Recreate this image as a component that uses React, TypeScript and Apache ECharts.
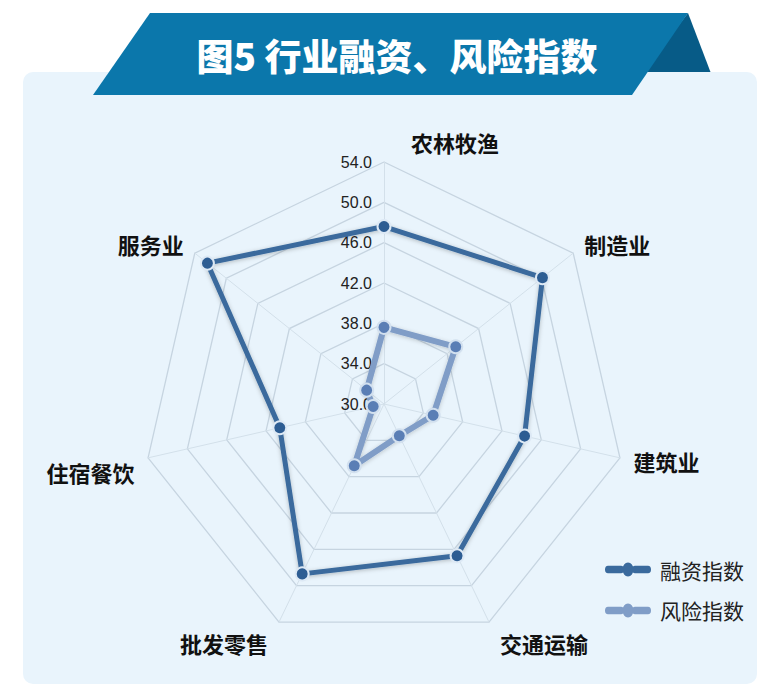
import React, { useEffect, useRef } from "react";
import * as echarts from "echarts";

const titleText = "图5 行业融资、风险指数";
// clockwise from top
const indicatorNames = ["农林牧渔", "制造业", "建筑业", "交通运输", "批发零售", "住宿餐饮", "服务业"];
const seriesNames = ["融资指数", "风险指数"];
const financingValues = [47.6, 50.1, 44.3, 46.7, 48.7, 40.6, 52.4];
const riskValues = [37.6, 39.1, 35.0, 33.5, 36.8, 31.1, 32.2];
const axisMin = 30;
const axisMax = 54;
const axisSplits = 6;

const FONT = '"Noto Sans CJK SC", "Noto Sans", sans-serif';

const namePadding: number[][] = [
  [0, 0, 0, 142],
  [0, 0, 0, 0],
  [0, 0, 0, 0],
  [16, 0, 0, 5],
  [16, 5, 0, 0],
  [22, 0, 0, 0],
  [0, 0, 0, 0],
];

const legendIcon =
  "path://M3,4 L16,4 A3,3 0 0 1 16,10 L3,10 A3,3 0 0 1 3,4 Z M23,1.5 A5.5,5.5 0 1 1 23,12.5 A5.5,5.5 0 1 1 23,1.5 Z M30,4 L43,4 A3,3 0 0 1 43,10 L30,10 A3,3 0 0 1 30,4 Z";

export default function App() {
  const ref = useRef<HTMLDivElement>(null);

  useEffect(() => {
    document.body.style.margin = "0";
    const chart = echarts.init(ref.current!, null, { renderer: "svg" });

    // ECharts radar runs counter-clockwise; reorder so the chart reads clockwise
    const order = indicatorNames.map((_, i) => (i === 0 ? 0 : indicatorNames.length - i));
    const pick = (arr: any[]) => order.map((i) => arr[i]);

    const rich: Record<string, any> = {};
    indicatorNames.forEach((n, i) => {
      rich["k" + i] = {
        fontSize: 22,
        fontWeight: "bold",
        color: "#111",
        fontFamily: FONT,
        padding: namePadding[i],
        lineHeight: i === 0 ? 12 : 26,
      };
    });

    const orderedNames = pick(indicatorNames);

    const option: any = {
      animation: false,
      textStyle: { fontFamily: FONT },
      graphic: [
        {
          type: "polygon",
          z: -10,
          shape: { points: [[688, 13], [712, 76], [640, 76]] },
          style: { fill: "#075b87" },
        },
        {
          type: "rect",
          z: -9,
          shape: { x: 23, y: 72, width: 734, height: 612, r: 10 },
          style: { fill: "#e9f4fc" },
        },
        {
          type: "polygon",
          z: -8,
          shape: { points: [[150, 13], [688, 13], [632, 95], [93, 95]] },
          style: { fill: "#0b77ab" },
        },
        {
          type: "text",
          z: -7,
          x: 397,
          y: 55,
          style: {
            text: titleText,
            fill: "#ffffff",
            fontSize: 37,
            fontWeight: 900,
            fontFamily: FONT,
            align: "center",
            verticalAlign: "middle",
          },
        },
      ],
      legend: {
        orient: "vertical",
        left: 600,
        top: 554,
        itemWidth: 46,
        itemHeight: 14,
        itemGap: 20,
        symbolKeepAspect: false,
        textStyle: { fontSize: 21, color: "#222", fontFamily: FONT, padding: [0, 0, 0, 4] },
        data: [
          { name: seriesNames[0], icon: legendIcon, itemStyle: { color: "#3a6a9d", borderWidth: 0 } },
          { name: seriesNames[1], icon: legendIcon, itemStyle: { color: "#809dc7", borderWidth: 0 } },
        ],
      },
      radar: {
        center: [384, 404],
        radius: 242,
        startAngle: 90,
        splitNumber: axisSplits,
        shape: "polygon",
        nameGap: 14,
        axisName: {
          formatter: (name: string) => `{k${indicatorNames.indexOf(name)}|${name}}`,
          rich,
        },
        indicator: orderedNames.map((n: string, i: number) =>
          i === 0
            ? { name: n, min: axisMin, max: axisMax }
            : { name: n, min: axisMin, max: axisMax, axisLabel: { show: false } }
        ),
        axisLabel: {
          show: true,
          fontSize: 16,
          margin: 12,
          color: "#222",
          fontFamily: '"Liberation Sans", Arial, sans-serif',
          formatter: (v: number) => Number(v).toFixed(1),
        },
        splitLine: { lineStyle: { color: "#c6d4e0", width: 1.3 } },
        splitArea: { show: false },
        axisLine: { lineStyle: { color: "#d3e0ea", width: 1 } },
        axisTick: { show: false },
      },
      series: [
        {
          type: "radar",
          z: 3,
          symbol: "circle",
          symbolSize: 13,
          data: [
            {
              name: seriesNames[0],
              value: pick(financingValues),
              lineStyle: {
                color: "#3a6a9d",
                width: 5,
                shadowBlur: 4,
                shadowColor: "rgba(0,0,0,0.25)",
                shadowOffsetY: 1,
              },
              itemStyle: { color: "#2d5d93", borderColor: "#dde9f5", borderWidth: 2 },
            },
            {
              name: seriesNames[1],
              value: pick(riskValues),
              lineStyle: {
                color: "#809dc7",
                width: 6,
                shadowBlur: 4,
                shadowColor: "rgba(0,0,0,0.2)",
                shadowOffsetY: 1,
              },
              itemStyle: { color: "#5a7eb5", borderColor: "#d2e0ef", borderWidth: 2 },
            },
          ],
        },
      ],
    };

    chart.setOption(option);
    return () => chart.dispose();
  }, []);

  return <div ref={ref} style={{ width: 772, height: 700 }} />;
}
